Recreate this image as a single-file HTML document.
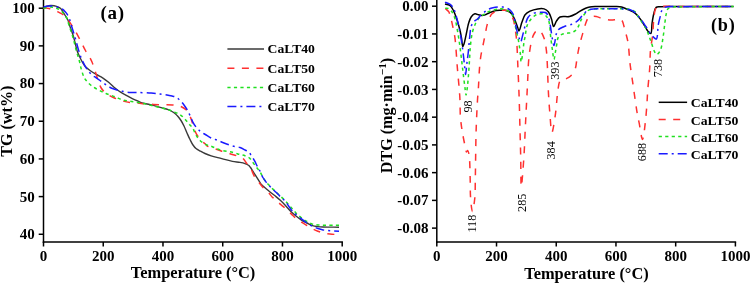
<!DOCTYPE html>
<html><head><meta charset="utf-8"><style>
html,body{margin:0;padding:0;background:#fff;}
body{width:750px;height:283px;overflow:hidden;}
svg{display:block;will-change:transform;}
text{font-family:"Liberation Serif",serif;fill:#000;}
.tk{font-size:15px;font-weight:bold;}
.ti{font-size:16.4px;font-weight:bold;}
.lg{font-size:13.2px;font-weight:bold;}
.lab{font-size:19px;letter-spacing:0.65px;font-weight:bold;}
.pk{font-size:12.2px;}
</style></head><body>
<svg width="750" height="283" viewBox="0 0 750 283">
<line x1="43.5" y1="0" x2="43.5" y2="242.75" stroke="#000" stroke-width="1.5"/>
<line x1="42.75" y1="242" x2="342.95" y2="242" stroke="#000" stroke-width="1.5"/>
<line x1="38.7" y1="8.20" x2="43.5" y2="8.20" stroke="#000" stroke-width="1.5"/>
<text x="34.8" y="13.10" class="tk" text-anchor="end">100</text>
<line x1="38.7" y1="45.88" x2="43.5" y2="45.88" stroke="#000" stroke-width="1.5"/>
<text x="34.8" y="50.78" class="tk" text-anchor="end">90</text>
<line x1="38.7" y1="83.56" x2="43.5" y2="83.56" stroke="#000" stroke-width="1.5"/>
<text x="34.8" y="88.46" class="tk" text-anchor="end">80</text>
<line x1="38.7" y1="121.24" x2="43.5" y2="121.24" stroke="#000" stroke-width="1.5"/>
<text x="34.8" y="126.14" class="tk" text-anchor="end">70</text>
<line x1="38.7" y1="158.92" x2="43.5" y2="158.92" stroke="#000" stroke-width="1.5"/>
<text x="34.8" y="163.82" class="tk" text-anchor="end">60</text>
<line x1="38.7" y1="196.60" x2="43.5" y2="196.60" stroke="#000" stroke-width="1.5"/>
<text x="34.8" y="201.50" class="tk" text-anchor="end">50</text>
<line x1="38.7" y1="234.28" x2="43.5" y2="234.28" stroke="#000" stroke-width="1.5"/>
<text x="34.8" y="239.18" class="tk" text-anchor="end">40</text>
<line x1="43.50" y1="242" x2="43.50" y2="246.5" stroke="#000" stroke-width="1.5"/>
<text x="43.50" y="261.2" class="tk" text-anchor="middle">0</text>
<line x1="103.24" y1="242" x2="103.24" y2="246.5" stroke="#000" stroke-width="1.5"/>
<text x="103.24" y="261.2" class="tk" text-anchor="middle">200</text>
<line x1="162.98" y1="242" x2="162.98" y2="246.5" stroke="#000" stroke-width="1.5"/>
<text x="162.98" y="261.2" class="tk" text-anchor="middle">400</text>
<line x1="222.72" y1="242" x2="222.72" y2="246.5" stroke="#000" stroke-width="1.5"/>
<text x="222.72" y="261.2" class="tk" text-anchor="middle">600</text>
<line x1="282.46" y1="242" x2="282.46" y2="246.5" stroke="#000" stroke-width="1.5"/>
<text x="282.46" y="261.2" class="tk" text-anchor="middle">800</text>
<line x1="342.20" y1="242" x2="342.20" y2="246.5" stroke="#000" stroke-width="1.5"/>
<text x="342.20" y="261.2" class="tk" text-anchor="middle">1000</text>
<text x="193.1" y="277.5" class="ti" text-anchor="middle">Temperature (°C)</text>
<text transform="translate(11.7,121.2) rotate(-90)" class="ti" style="font-size:16.1px" text-anchor="middle">TG (wt%)</text>
<text x="100.5" y="19.4" class="lab">(a)</text>
<path d="M43.50,8.20 C44.08,7.87 45.77,6.67 47.00,6.20 C48.21,5.74 49.58,5.47 50.80,5.40 C51.91,5.34 52.94,5.50 54.00,5.70 C55.08,5.90 56.13,6.17 57.20,6.60 C58.37,7.07 59.76,7.65 60.70,8.50 C61.61,9.33 62.11,10.54 62.80,11.60 C63.51,12.70 64.15,13.77 64.90,15.00 C65.79,16.46 67.00,18.05 67.80,19.80 C68.66,21.69 69.04,23.75 69.80,26.00 C70.72,28.73 72.09,32.09 73.00,35.00 C73.83,37.68 74.41,40.17 75.10,42.80 C75.81,45.50 76.40,48.63 77.20,51.00 C77.84,52.90 78.53,54.31 79.30,56.00 C80.12,57.80 81.01,59.74 82.00,61.50 C82.98,63.24 83.89,65.01 85.20,66.50 C86.54,68.02 88.25,69.23 90.00,70.50 C91.89,71.87 94.09,73.18 96.20,74.40 C98.29,75.61 100.52,76.48 102.60,77.80 C104.76,79.17 106.83,80.81 108.90,82.50 C111.06,84.27 113.23,86.50 115.30,88.20 C117.12,89.69 118.88,91.09 120.60,92.20 C122.10,93.17 123.49,93.78 125.00,94.60 C126.61,95.48 128.33,96.43 130.00,97.30 C131.66,98.16 133.28,98.99 135.00,99.80 C136.80,100.65 138.31,101.52 140.60,102.30 C143.94,103.44 149.47,104.41 153.30,105.40 C156.48,106.23 159.35,107.03 162.00,107.80 C164.25,108.45 166.41,109.00 168.20,109.70 C169.64,110.26 170.83,110.84 172.00,111.50 C173.08,112.11 174.04,112.71 175.00,113.50 C176.04,114.36 177.04,115.39 178.00,116.50 C179.04,117.70 180.05,119.02 181.00,120.50 C182.06,122.15 183.04,124.03 184.00,126.00 C185.05,128.17 185.98,130.72 187.00,133.00 C187.99,135.21 188.96,137.44 190.00,139.50 C190.97,141.43 191.91,143.42 193.00,145.00 C193.93,146.35 194.80,147.49 196.00,148.50 C197.30,149.58 199.07,150.35 200.60,151.20 C202.07,152.02 203.39,152.77 205.00,153.50 C206.87,154.35 208.83,155.14 211.20,155.90 C214.24,156.87 218.27,157.68 221.80,158.60 C225.34,159.52 229.14,160.76 232.40,161.40 C235.13,161.94 237.74,161.98 240.00,162.40 C241.85,162.74 243.51,163.07 245.00,163.60 C246.30,164.06 247.55,164.59 248.50,165.30 C249.33,165.92 249.87,166.67 250.50,167.50 C251.21,168.44 251.74,169.49 252.50,170.70 C253.50,172.29 254.76,174.25 256.00,176.20 C257.41,178.42 259.48,181.86 260.50,183.30 C260.97,183.96 261.21,184.28 261.60,184.70 C261.98,185.11 262.36,185.41 262.80,185.80 C263.32,186.26 263.83,186.72 264.50,187.30 C265.46,188.13 266.79,189.29 268.00,190.30 C269.28,191.36 270.66,192.45 272.00,193.50 C273.33,194.55 274.66,195.50 276.00,196.60 C277.42,197.76 278.86,198.96 280.30,200.30 C281.86,201.75 283.35,203.27 285.00,205.00 C286.95,207.04 289.21,209.85 291.20,211.80 C292.85,213.42 294.29,214.63 296.00,216.00 C297.81,217.46 299.87,219.10 301.80,220.30 C303.54,221.39 305.24,222.12 307.00,223.00 C308.78,223.89 310.54,225.00 312.40,225.60 C314.21,226.19 316.18,226.37 318.00,226.60 C319.71,226.82 321.19,226.91 323.00,227.00 C325.14,227.10 327.52,227.07 330.00,227.10 C332.81,227.14 337.50,227.18 339.00,227.20" fill="none" stroke="#3a3a3a" stroke-width="1.4" stroke-linejoin="round"/>
<path d="M43.50,8.50 C43.92,8.42 45.13,8.01 46.00,8.00 C46.95,7.98 48.01,8.25 49.00,8.50 C50.01,8.75 51.00,9.17 52.00,9.50 C53.00,9.83 54.01,10.12 55.00,10.50 C56.01,10.89 56.94,11.28 58.00,11.80 C59.25,12.41 60.67,13.10 62.00,14.00 C63.50,15.02 65.18,16.27 66.50,17.70 C67.85,19.16 68.75,20.83 70.00,22.70 C71.54,25.00 73.35,27.71 75.00,30.50 C76.82,33.59 78.63,37.11 80.40,40.50 C82.20,43.95 84.01,48.02 85.70,51.00 C87.01,53.31 88.41,55.06 89.50,57.00 C90.47,58.72 91.20,60.11 92.00,62.00 C92.98,64.33 93.94,67.42 94.80,70.00 C95.60,72.40 96.27,74.76 97.00,77.00 C97.67,79.08 98.27,81.11 99.00,83.00 C99.68,84.76 100.31,86.53 101.20,88.00 C102.01,89.33 102.95,90.43 104.00,91.50 C105.08,92.60 106.17,93.56 107.60,94.50 C109.35,95.66 111.61,96.69 113.90,97.70 C116.49,98.84 119.62,100.09 122.40,100.90 C124.98,101.65 127.56,102.17 130.00,102.50 C132.21,102.80 134.28,102.70 136.40,102.90 C138.51,103.10 140.32,103.47 142.70,103.70 C145.77,104.00 149.84,104.21 153.30,104.40 C156.60,104.58 159.79,104.70 163.00,104.80 C166.16,104.90 169.82,104.83 172.40,105.00 C174.21,105.12 175.54,105.23 177.00,105.50 C178.36,105.75 179.54,105.90 180.90,106.50 C182.64,107.27 184.85,108.44 186.40,110.10 C188.17,112.00 189.32,114.70 190.60,117.60 C192.19,121.21 193.54,127.13 194.80,130.30 C195.59,132.28 196.20,133.69 197.00,135.00 C197.65,136.07 198.35,136.72 199.10,137.70 C199.99,138.86 200.91,140.41 202.00,141.50 C203.03,142.53 204.51,143.27 205.40,144.10 C206.07,144.72 206.18,145.35 207.00,145.90 C208.43,146.86 211.53,147.45 213.90,148.30 C216.45,149.21 219.13,150.29 221.80,151.20 C224.50,152.12 227.22,152.93 230.00,153.80 C232.88,154.70 236.43,155.58 238.80,156.50 C240.48,157.16 241.78,157.50 243.00,158.50 C244.35,159.60 245.22,161.57 246.40,163.00 C247.55,164.40 248.84,165.26 250.00,167.00 C251.68,169.51 253.09,174.33 254.80,177.10 C256.13,179.27 257.58,180.73 259.00,182.50 C260.41,184.26 261.78,186.10 263.30,187.70 C264.78,189.26 266.54,190.46 268.00,192.00 C269.47,193.55 270.67,195.61 272.10,197.00 C273.35,198.21 274.68,198.86 276.00,200.00 C277.50,201.29 278.98,202.94 280.60,204.40 C282.31,205.94 284.24,207.42 286.00,209.00 C287.77,210.59 289.50,212.29 291.20,213.90 C292.84,215.45 294.26,217.10 296.00,218.50 C297.79,219.94 299.90,221.20 301.80,222.40 C303.57,223.52 305.25,224.45 307.00,225.50 C308.79,226.58 310.55,227.84 312.40,228.80 C314.22,229.74 316.18,230.48 318.00,231.20 C319.70,231.87 321.17,232.54 323.00,233.00 C325.11,233.53 327.52,233.73 330.00,234.00 C332.81,234.31 337.50,234.58 339.00,234.70" fill="none" stroke="#ff3030" stroke-width="1.5" stroke-dasharray="7 7.5" stroke-linejoin="round"/>
<path d="M43.50,8.50 C44.00,8.32 45.44,7.63 46.50,7.40 C47.61,7.15 48.82,7.12 50.00,7.10 C51.19,7.08 52.43,7.07 53.60,7.30 C54.77,7.53 55.99,8.08 57.00,8.50 C57.85,8.85 58.56,9.15 59.30,9.60 C60.07,10.07 60.81,10.67 61.50,11.30 C62.21,11.94 62.85,12.64 63.50,13.40 C64.19,14.20 64.90,15.10 65.50,16.00 C66.10,16.90 66.62,17.67 67.10,18.80 C67.76,20.34 68.09,22.22 68.80,24.50 C69.87,27.96 71.76,33.17 73.00,37.50 C74.22,41.74 75.10,46.17 76.20,50.20 C77.21,53.90 78.39,57.39 79.30,60.80 C80.14,63.94 80.65,67.01 81.50,69.90 C82.30,72.59 83.12,75.53 84.20,77.60 C85.03,79.19 85.95,80.28 87.00,81.50 C88.08,82.75 89.29,83.93 90.60,85.00 C91.95,86.10 93.38,87.02 95.00,88.00 C96.86,89.13 99.25,90.34 101.20,91.30 C102.89,92.14 104.31,92.81 106.00,93.50 C107.83,94.25 109.93,94.88 111.80,95.60 C113.59,96.28 115.25,97.01 117.00,97.70 C118.78,98.41 120.42,99.24 122.40,99.80 C124.69,100.45 127.14,100.70 130.00,101.20 C133.69,101.84 138.48,102.42 142.70,103.30 C146.95,104.19 151.16,105.44 155.40,106.50 C159.66,107.57 164.98,108.70 168.20,109.70 C170.21,110.32 171.33,110.84 173.00,111.50 C174.85,112.23 177.07,112.93 178.80,113.90 C180.37,114.79 181.68,115.79 183.00,117.00 C184.42,118.30 185.77,120.09 187.00,121.50 C188.08,122.73 189.02,123.88 190.00,125.00 C190.92,126.04 191.91,126.80 192.70,128.00 C193.62,129.40 194.23,131.48 195.00,133.00 C195.67,134.31 196.21,135.41 197.00,136.60 C197.86,137.91 198.90,139.40 200.00,140.50 C201.01,141.51 202.14,142.25 203.30,143.00 C204.47,143.75 205.66,144.43 207.00,145.00 C208.47,145.62 210.14,145.89 211.80,146.50 C213.66,147.19 215.74,148.31 217.60,149.00 C219.26,149.61 220.49,150.03 222.40,150.50 C225.11,151.16 229.31,151.58 232.40,152.30 C235.12,152.94 237.73,153.88 240.00,154.50 C241.84,155.00 243.40,155.20 245.00,155.80 C246.60,156.40 248.29,157.01 249.60,158.10 C250.97,159.24 251.88,161.10 253.00,162.60 C254.11,164.10 255.17,165.64 256.30,167.10 C257.41,168.54 258.65,169.72 259.70,171.30 C260.87,173.07 261.84,175.51 262.90,177.30 C263.80,178.82 264.54,180.04 265.60,181.40 C266.80,182.94 268.26,184.40 269.80,186.00 C271.58,187.84 273.88,190.06 275.70,191.80 C277.24,193.27 278.51,194.41 280.00,195.80 C281.61,197.30 283.29,198.72 285.00,200.50 C287.01,202.58 289.26,205.40 291.20,207.60 C292.90,209.53 294.27,211.26 296.00,213.00 C297.79,214.80 299.86,216.73 301.80,218.20 C303.53,219.51 305.22,220.51 307.00,221.50 C308.76,222.48 310.54,223.52 312.40,224.10 C314.21,224.67 316.18,224.82 318.00,225.00 C319.71,225.17 320.86,225.16 323.00,225.20 C326.82,225.28 336.33,225.20 339.00,225.20" fill="none" stroke="#20e020" stroke-width="1.5" stroke-dasharray="3.2 3.3" stroke-linejoin="round"/>
<path d="M43.50,7.00 C44.00,6.88 45.37,6.47 46.50,6.30 C47.95,6.09 49.78,5.90 51.50,6.00 C53.34,6.10 55.65,6.59 57.20,7.00 C58.31,7.29 59.08,7.61 60.00,8.00 C60.95,8.40 61.96,8.81 62.80,9.40 C63.63,9.98 64.30,10.73 65.00,11.50 C65.74,12.32 66.43,13.13 67.10,14.20 C67.94,15.54 68.83,17.29 69.50,19.00 C70.21,20.81 70.51,22.50 71.20,24.80 C72.23,28.22 73.89,33.34 75.10,37.50 C76.25,41.47 77.18,45.52 78.30,49.20 C79.32,52.55 80.24,55.67 81.50,58.70 C82.72,61.63 84.37,64.83 85.70,67.10 C86.67,68.75 87.46,69.90 88.50,71.20 C89.56,72.53 90.73,73.92 92.00,75.00 C93.21,76.03 94.59,76.70 95.90,77.60 C97.26,78.53 98.71,79.57 100.00,80.50 C101.16,81.33 102.17,82.09 103.30,82.90 C104.49,83.75 105.66,84.66 107.00,85.50 C108.47,86.43 110.13,87.45 111.80,88.20 C113.47,88.95 115.24,89.48 117.00,90.00 C118.77,90.52 120.44,90.91 122.40,91.30 C124.71,91.76 127.51,92.30 130.00,92.50 C132.37,92.69 134.26,92.44 137.00,92.50 C140.91,92.58 147.03,92.80 151.20,93.10 C154.49,93.34 157.12,93.63 160.00,94.00 C162.79,94.36 165.99,94.92 168.20,95.30 C169.71,95.56 170.76,95.71 172.00,96.00 C173.22,96.28 174.50,96.49 175.60,97.00 C176.66,97.50 177.59,98.29 178.50,99.00 C179.39,99.69 180.17,100.32 181.00,101.20 C182.00,102.26 183.00,103.62 184.00,105.00 C185.13,106.55 186.40,108.34 187.40,110.10 C188.39,111.84 189.15,113.62 190.00,115.50 C190.91,117.51 191.67,119.84 192.70,121.80 C193.68,123.66 194.84,125.51 196.00,127.00 C196.99,128.28 198.04,129.35 199.10,130.30 C200.05,131.15 200.97,131.81 202.00,132.50 C203.07,133.22 204.12,133.74 205.40,134.50 C207.08,135.50 209.12,137.01 211.20,138.00 C213.38,139.03 215.99,139.63 218.20,140.50 C220.24,141.30 221.87,142.18 224.00,143.00 C226.53,143.98 229.65,145.14 232.40,145.90 C234.97,146.61 237.76,146.73 240.00,147.50 C241.92,148.16 243.59,149.18 245.10,150.00 C246.36,150.68 247.51,151.16 248.50,152.00 C249.48,152.83 250.14,153.79 251.00,155.00 C252.15,156.60 253.57,159.03 254.60,160.90 C255.49,162.51 256.08,163.94 256.90,165.50 C257.77,167.14 258.77,168.67 259.70,170.50 C260.77,172.62 261.79,175.55 262.90,177.50 C263.77,179.03 264.56,180.06 265.60,181.40 C266.81,182.95 268.25,184.55 269.80,186.20 C271.57,188.07 273.84,190.15 275.70,192.00 C277.39,193.67 278.91,195.27 280.50,196.80 C282.01,198.26 283.47,199.25 285.00,201.00 C287.02,203.30 289.17,207.30 291.20,209.70 C292.82,211.62 294.28,212.95 296.00,214.50 C297.80,216.12 299.90,217.74 301.80,219.20 C303.56,220.56 305.22,221.83 307.00,223.00 C308.76,224.16 310.55,225.28 312.40,226.20 C314.22,227.11 316.17,227.87 318.00,228.50 C319.70,229.08 321.18,229.53 323.00,229.90 C325.12,230.33 327.52,230.57 330.00,230.80 C332.81,231.06 337.50,231.22 339.00,231.30" fill="none" stroke="#1a1aff" stroke-width="1.5" stroke-dasharray="9 4 2 4" stroke-linejoin="round"/>
<line x1="227.4" y1="49" x2="264" y2="49" stroke="#3a3a3a" stroke-width="1.4"/>
<text x="267.6" y="53.30" class="lg" textLength="47.3" lengthAdjust="spacingAndGlyphs">CaLT40</text>
<line x1="227.4" y1="68.2" x2="264" y2="68.2" stroke="#ff3030" stroke-width="1.5" stroke-dasharray="7 7.5"/>
<text x="267.6" y="72.50" class="lg" textLength="47.3" lengthAdjust="spacingAndGlyphs">CaLT50</text>
<line x1="227.4" y1="87.4" x2="264" y2="87.4" stroke="#20e020" stroke-width="1.5" stroke-dasharray="3.2 3.3"/>
<text x="267.6" y="91.70" class="lg" textLength="47.3" lengthAdjust="spacingAndGlyphs">CaLT60</text>
<line x1="227.4" y1="106.6" x2="264" y2="106.6" stroke="#1a1aff" stroke-width="1.5" stroke-dasharray="9 4 2 4"/>
<text x="267.6" y="110.90" class="lg" textLength="47.3" lengthAdjust="spacingAndGlyphs">CaLT70</text>
<line x1="436.8" y1="0" x2="436.8" y2="242.75" stroke="#000" stroke-width="1.5"/>
<line x1="436.05" y1="242" x2="736.15" y2="242" stroke="#000" stroke-width="1.5"/>
<line x1="432.0" y1="6.20" x2="436.8" y2="6.20" stroke="#000" stroke-width="1.5"/>
<text x="428.6" y="11.30" class="tk" text-anchor="end">0.00</text>
<line x1="432.0" y1="33.94" x2="436.8" y2="33.94" stroke="#000" stroke-width="1.5"/>
<text x="428.6" y="39.04" class="tk" text-anchor="end">-0.01</text>
<line x1="432.0" y1="61.68" x2="436.8" y2="61.68" stroke="#000" stroke-width="1.5"/>
<text x="428.6" y="66.78" class="tk" text-anchor="end">-0.02</text>
<line x1="432.0" y1="89.42" x2="436.8" y2="89.42" stroke="#000" stroke-width="1.5"/>
<text x="428.6" y="94.52" class="tk" text-anchor="end">-0.03</text>
<line x1="432.0" y1="117.16" x2="436.8" y2="117.16" stroke="#000" stroke-width="1.5"/>
<text x="428.6" y="122.26" class="tk" text-anchor="end">-0.04</text>
<line x1="432.0" y1="144.90" x2="436.8" y2="144.90" stroke="#000" stroke-width="1.5"/>
<text x="428.6" y="150.00" class="tk" text-anchor="end">-0.05</text>
<line x1="432.0" y1="172.64" x2="436.8" y2="172.64" stroke="#000" stroke-width="1.5"/>
<text x="428.6" y="177.74" class="tk" text-anchor="end">-0.06</text>
<line x1="432.0" y1="200.38" x2="436.8" y2="200.38" stroke="#000" stroke-width="1.5"/>
<text x="428.6" y="205.48" class="tk" text-anchor="end">-0.07</text>
<line x1="432.0" y1="228.12" x2="436.8" y2="228.12" stroke="#000" stroke-width="1.5"/>
<text x="428.6" y="233.22" class="tk" text-anchor="end">-0.08</text>
<line x1="436.80" y1="242" x2="436.80" y2="246.5" stroke="#000" stroke-width="1.5"/>
<text x="436.80" y="261.2" class="tk" text-anchor="middle">0</text>
<line x1="496.52" y1="242" x2="496.52" y2="246.5" stroke="#000" stroke-width="1.5"/>
<text x="496.52" y="261.2" class="tk" text-anchor="middle">200</text>
<line x1="556.24" y1="242" x2="556.24" y2="246.5" stroke="#000" stroke-width="1.5"/>
<text x="556.24" y="261.2" class="tk" text-anchor="middle">400</text>
<line x1="615.96" y1="242" x2="615.96" y2="246.5" stroke="#000" stroke-width="1.5"/>
<text x="615.96" y="261.2" class="tk" text-anchor="middle">600</text>
<line x1="675.68" y1="242" x2="675.68" y2="246.5" stroke="#000" stroke-width="1.5"/>
<text x="675.68" y="261.2" class="tk" text-anchor="middle">800</text>
<line x1="735.40" y1="242" x2="735.40" y2="246.5" stroke="#000" stroke-width="1.5"/>
<text x="735.40" y="261.2" class="tk" text-anchor="middle">1000</text>
<text x="586.5" y="278.6" class="ti" text-anchor="middle">Temperature (°C)</text>
<text transform="translate(391.5,173.2) rotate(-90)" class="ti" style="font-size:16.1px">DTG (mg·min<tspan font-size="11.3" dy="-6">−1</tspan><tspan dy="6">)</tspan></text>
<text x="711.0" y="31.1" class="lab" style="font-size:18.2px;letter-spacing:0.8px">(b)</text>
<path d="M445.00,4.00 C445.80,4.22 448.44,4.35 449.80,5.30 C451.35,6.39 452.42,8.55 453.50,10.60 C454.78,13.03 455.69,16.07 456.70,19.10 C457.83,22.49 459.07,26.63 459.90,30.00 C460.60,32.86 461.02,35.29 461.50,38.00 C461.99,40.78 462.19,46.41 462.80,46.50 C463.14,46.55 463.61,45.11 464.00,44.00 C464.70,42.00 465.29,38.45 466.00,35.30 C466.84,31.56 467.63,26.37 468.70,23.00 C469.48,20.54 470.12,18.39 471.30,16.80 C472.28,15.47 473.62,14.07 474.90,13.80 C476.04,13.55 477.33,14.51 478.50,14.80 C479.59,15.07 480.62,15.48 481.70,15.50 C482.79,15.52 483.91,15.26 485.00,14.90 C486.18,14.52 487.32,13.73 488.50,13.20 C489.68,12.67 490.84,12.16 492.10,11.70 C493.44,11.22 494.88,10.65 496.30,10.40 C497.68,10.16 499.09,10.22 500.50,10.20 C501.92,10.18 503.33,10.04 504.80,10.30 C506.43,10.59 508.57,11.23 509.80,12.00 C510.70,12.56 511.15,13.12 511.80,14.00 C512.73,15.26 513.62,17.15 514.50,19.10 C515.60,21.54 516.87,25.41 517.70,27.60 C518.23,28.99 518.50,31.01 519.00,31.00 C519.80,30.98 520.85,25.07 521.90,22.30 C522.89,19.69 523.59,16.70 525.10,14.80 C526.40,13.16 528.09,12.15 530.00,11.20 C532.20,10.11 535.23,9.26 537.70,8.90 C539.91,8.58 542.26,8.34 544.10,8.90 C545.73,9.39 547.15,10.32 548.30,11.70 C549.76,13.45 550.61,16.60 551.50,19.10 C552.37,21.54 552.71,26.41 553.60,26.50 C554.39,26.58 555.31,22.81 556.40,21.20 C557.45,19.65 558.27,17.85 560.00,17.00 C562.26,15.89 566.69,17.14 569.50,16.50 C571.90,15.95 574.15,14.72 575.90,13.80 C577.21,13.11 577.90,12.46 579.20,11.70 C580.97,10.67 583.66,9.11 585.60,8.30 C587.11,7.67 588.25,7.30 589.80,7.00 C591.65,6.64 593.74,6.60 596.00,6.50 C598.72,6.38 601.92,6.40 605.00,6.40 C608.25,6.40 612.01,6.37 615.00,6.50 C617.43,6.60 619.46,6.50 621.60,7.00 C623.79,7.51 625.82,8.61 628.00,9.60 C630.38,10.68 633.20,11.66 635.30,13.30 C637.39,14.93 638.99,17.22 640.60,19.40 C642.23,21.62 643.71,24.41 645.00,26.50 C646.01,28.14 646.66,29.68 647.70,30.90 C648.62,31.99 650.06,33.88 650.80,33.60 C651.99,33.14 651.57,26.45 652.10,23.00 C652.61,19.69 653.12,16.10 653.90,13.30 C654.52,11.06 654.86,8.43 656.10,7.40 C657.08,6.58 658.19,6.87 660.00,6.70 C664.07,6.32 672.96,6.55 680.00,6.50 C687.87,6.44 696.39,6.42 705.00,6.40 C714.21,6.38 728.83,6.40 733.60,6.40" fill="none" stroke="#000" stroke-width="1.5" stroke-linejoin="round"/>
<path d="M445.30,8.50 C445.87,9.03 447.82,10.32 448.70,11.70 C449.75,13.35 450.14,15.66 450.80,18.00 C451.60,20.85 452.32,24.38 453.00,27.60 C453.69,30.84 454.33,33.23 454.90,37.40 C455.89,44.60 456.48,57.20 457.30,67.10 C458.12,77.00 459.27,87.73 459.80,96.80 C460.25,104.45 459.97,111.56 460.50,118.00 C460.95,123.44 461.67,128.01 462.50,133.00 C463.33,138.01 464.74,144.60 465.50,148.00 C465.90,149.76 466.04,151.91 466.50,152.00 C466.81,152.06 467.25,150.46 467.60,150.50 C468.10,150.56 468.67,152.65 469.00,154.00 C469.42,155.71 469.43,157.41 469.60,160.00 C469.91,164.71 470.03,173.51 470.20,180.00 C470.36,186.16 470.17,192.44 470.60,198.00 C470.97,202.83 471.70,211.48 472.40,211.50 C473.10,211.52 474.31,202.84 474.80,198.00 C475.37,192.45 475.17,186.16 475.30,180.00 C475.44,173.51 475.49,167.04 475.60,160.00 C475.72,152.13 475.81,142.53 476.00,135.00 C476.16,128.79 476.35,123.75 476.60,118.00 C476.85,112.08 477.16,105.39 477.50,100.00 C477.78,95.59 478.10,92.56 478.40,88.00 C478.80,81.97 479.08,73.02 479.60,67.00 C480.00,62.44 480.48,58.17 481.00,55.00 C481.34,52.90 481.70,51.75 482.10,49.80 C482.61,47.31 483.21,44.27 483.80,41.30 C484.44,38.03 485.21,33.91 485.80,31.00 C486.24,28.85 486.48,27.28 487.00,25.40 C487.54,23.44 488.27,21.36 489.00,19.50 C489.68,17.77 490.25,15.85 491.20,14.60 C491.98,13.57 492.96,12.94 494.00,12.30 C495.08,11.63 496.39,11.03 497.60,10.70 C498.73,10.39 499.79,10.37 501.00,10.30 C502.39,10.22 504.09,10.08 505.50,10.30 C506.81,10.51 508.19,10.66 509.20,11.50 C510.42,12.52 511.14,14.97 511.90,16.50 C512.53,17.76 513.04,18.56 513.50,20.00 C514.16,22.09 514.53,25.06 515.00,28.00 C515.58,31.59 516.18,35.37 516.60,40.00 C517.17,46.30 517.33,54.16 517.70,62.40 C518.16,72.53 518.72,85.02 519.10,96.30 C519.48,107.55 519.72,119.39 520.00,130.00 C520.25,139.50 520.49,147.79 520.70,157.00 C520.92,166.64 520.77,186.58 521.30,186.60 C521.83,186.62 523.24,166.65 523.90,157.00 C524.53,147.80 524.79,138.33 525.20,130.00 C525.55,122.83 525.89,116.04 526.20,110.00 C526.45,105.00 526.67,100.91 526.90,96.30 C527.14,91.61 527.32,87.52 527.60,82.10 C527.98,74.86 528.16,64.29 529.00,56.70 C529.69,50.47 530.69,43.92 531.80,39.80 C532.47,37.32 533.07,35.60 534.00,34.00 C534.77,32.67 535.63,31.21 536.70,30.70 C537.61,30.27 538.83,30.14 539.80,30.70 C541.42,31.64 543.05,35.39 544.10,38.20 C545.28,41.34 545.70,45.20 546.20,48.80 C546.71,52.47 546.81,55.26 547.10,60.00 C547.60,68.25 547.95,84.11 548.50,93.90 C548.92,101.39 549.32,107.19 549.90,113.70 C550.46,120.05 550.97,132.46 551.90,132.50 C552.83,132.54 554.57,120.07 555.50,113.70 C556.45,107.21 556.68,99.76 557.50,93.90 C558.16,89.18 558.48,83.38 559.80,81.20 C560.41,80.19 561.07,79.94 562.00,79.50 C563.24,78.91 565.30,79.05 566.80,78.40 C568.34,77.73 569.81,76.86 571.10,75.50 C572.72,73.79 574.40,70.87 575.30,68.50 C576.11,66.37 576.06,64.51 576.50,62.00 C577.10,58.57 577.72,53.64 578.50,49.80 C579.21,46.31 580.06,43.08 580.90,39.90 C581.69,36.90 582.60,33.96 583.40,31.20 C584.13,28.69 584.70,26.22 585.50,24.00 C586.22,22.02 586.86,19.73 587.90,18.50 C588.64,17.62 589.41,17.16 590.50,16.80 C591.98,16.32 594.27,16.23 596.20,16.50 C598.30,16.79 600.30,18.12 602.60,18.70 C605.18,19.35 608.38,20.01 611.00,20.10 C613.27,20.18 615.49,19.45 617.40,19.50 C618.95,19.54 620.48,19.16 621.60,20.10 C623.33,21.55 623.79,26.26 624.80,29.70 C625.94,33.62 627.18,37.64 628.00,42.40 C629.02,48.32 629.11,55.91 629.90,62.60 C630.68,69.24 631.77,75.81 632.70,82.40 C633.63,88.98 634.63,96.23 635.50,102.10 C636.21,106.86 636.82,111.27 637.50,115.00 C638.03,117.87 638.48,119.57 639.10,122.60 C640.03,127.12 641.47,139.52 642.50,139.50 C643.53,139.48 644.56,128.47 645.30,122.60 C646.09,116.28 646.58,108.58 647.00,102.80 C647.32,98.30 647.36,95.42 647.70,90.80 C648.17,84.45 649.23,75.33 649.70,68.20 C650.12,61.81 649.97,55.73 650.50,50.00 C650.98,44.83 652.04,40.43 652.60,35.30 C653.21,29.71 653.26,22.56 653.90,17.70 C654.36,14.22 654.47,10.60 655.60,8.80 C656.29,7.70 656.85,7.29 658.30,6.80 C661.98,5.57 672.51,6.65 680.00,6.60 C688.04,6.55 696.39,6.53 705.00,6.50 C714.21,6.47 728.83,6.42 733.60,6.40" fill="none" stroke="#ff3030" stroke-width="1.5" stroke-dasharray="7 7.5" stroke-linejoin="round"/>
<path d="M445.30,8.30 C445.78,8.33 447.24,8.10 448.20,8.50 C449.45,9.01 450.84,10.26 451.90,11.70 C453.26,13.55 454.30,16.59 455.10,19.10 C455.88,21.53 456.15,23.66 456.70,26.50 C457.44,30.32 458.30,35.37 459.00,40.00 C459.74,44.86 460.35,49.84 461.00,55.00 C461.69,60.49 462.32,66.42 463.00,72.00 C463.66,77.42 464.43,83.76 465.00,88.00 C465.38,90.81 465.63,94.99 466.00,95.00 C466.31,95.01 466.68,92.12 467.00,90.00 C467.55,86.35 468.08,80.00 468.50,75.00 C468.92,70.00 469.17,65.00 469.50,60.00 C469.83,55.00 469.97,49.81 470.50,45.00 C471.00,40.50 471.50,35.89 472.50,32.00 C473.36,28.68 474.52,25.54 475.80,23.00 C476.84,20.93 477.92,19.15 479.30,17.70 C480.58,16.36 482.24,15.47 483.70,14.50 C485.07,13.58 486.25,12.71 487.80,12.00 C489.61,11.17 491.88,10.53 494.00,10.00 C496.15,9.46 498.76,8.86 500.60,8.80 C501.92,8.76 502.87,8.92 504.00,9.20 C505.20,9.50 506.52,10.02 507.60,10.60 C508.60,11.14 509.43,11.68 510.30,12.50 C511.35,13.49 512.50,14.57 513.30,16.30 C514.54,18.97 514.76,23.58 515.60,27.60 C516.57,32.20 517.97,37.65 518.80,42.40 C519.56,46.75 520.10,51.41 520.50,55.00 C520.79,57.67 520.77,61.98 521.10,62.00 C521.43,62.02 522.07,57.70 522.50,55.00 C523.08,51.34 523.48,45.29 524.00,42.00 C524.32,39.97 524.61,39.10 525.00,37.10 C525.62,33.96 526.06,28.18 527.30,25.00 C528.21,22.67 529.44,21.03 530.80,19.40 C532.09,17.85 533.70,16.31 535.20,15.40 C536.44,14.65 537.76,14.26 539.00,14.00 C540.12,13.76 541.28,13.61 542.30,13.80 C543.27,13.97 544.25,14.47 545.00,15.00 C545.69,15.49 546.17,16.08 546.70,16.80 C547.35,17.68 548.03,18.78 548.50,20.00 C549.05,21.45 549.29,23.00 549.60,25.00 C550.06,27.94 550.17,32.12 550.60,36.00 C551.08,40.39 551.78,45.79 552.40,50.00 C552.92,53.48 553.47,59.50 554.00,59.50 C554.47,59.50 554.94,54.54 555.40,52.00 C555.87,49.38 556.31,46.52 556.80,44.00 C557.25,41.72 557.21,39.17 558.20,37.50 C559.05,36.07 560.54,35.00 561.90,34.30 C563.16,33.65 564.59,33.55 566.00,33.30 C567.48,33.04 569.20,33.14 570.60,32.80 C571.84,32.50 572.97,32.11 574.00,31.50 C575.04,30.88 576.01,30.06 576.80,29.10 C577.63,28.08 578.20,26.78 578.80,25.50 C579.44,24.13 579.72,22.72 580.50,21.10 C581.55,18.92 583.50,15.39 584.80,13.70 C585.58,12.68 586.19,12.17 587.00,11.50 C587.85,10.80 588.55,10.04 589.80,9.60 C591.75,8.91 595.00,9.04 598.00,8.90 C601.62,8.73 606.18,8.82 610.00,8.80 C613.49,8.79 616.85,8.74 620.00,8.80 C622.82,8.85 625.46,8.59 628.00,9.10 C630.45,9.59 633.19,10.23 635.00,11.70 C636.76,13.13 637.32,15.43 638.80,17.70 C640.78,20.74 644.08,24.84 645.90,28.30 C647.47,31.28 648.40,34.45 649.40,37.10 C650.21,39.25 650.77,40.88 651.50,43.00 C652.35,45.46 653.12,48.94 654.20,51.00 C654.97,52.48 655.85,54.48 656.80,54.50 C657.89,54.53 659.45,52.09 660.40,50.10 C661.82,47.13 662.28,41.99 663.00,37.70 C663.77,33.14 664.22,27.74 664.80,23.50 C665.28,20.04 665.56,16.76 666.20,14.10 C666.69,12.06 666.88,9.97 668.00,8.80 C669.03,7.73 670.70,7.44 672.40,7.10 C674.56,6.67 676.73,6.96 680.00,6.90 C685.92,6.79 696.39,6.67 705.00,6.60 C714.21,6.53 728.83,6.52 733.60,6.50" fill="none" stroke="#20e020" stroke-width="1.5" stroke-dasharray="3.2 3.3" stroke-linejoin="round"/>
<path d="M445.00,2.10 C445.80,2.45 448.43,3.27 449.80,4.20 C451.07,5.07 452.10,6.04 453.00,7.40 C454.12,9.08 454.77,11.27 455.60,13.80 C456.74,17.28 457.88,22.36 458.80,26.50 C459.67,30.42 460.33,33.97 461.00,38.00 C461.74,42.43 462.40,47.33 463.00,52.00 C463.60,56.66 464.13,61.91 464.60,66.00 C464.97,69.19 465.25,74.50 465.60,74.50 C465.98,74.50 466.37,67.62 466.80,64.00 C467.26,60.13 467.85,56.16 468.30,52.00 C468.79,47.52 469.07,42.48 469.60,38.00 C470.09,33.84 470.25,28.96 471.30,26.00 C471.99,24.05 472.90,22.70 474.00,21.50 C475.00,20.42 476.39,20.01 477.50,19.00 C478.74,17.88 479.67,16.28 481.00,15.00 C482.46,13.60 484.49,12.07 486.00,11.00 C487.16,10.18 488.05,9.53 489.20,9.00 C490.38,8.46 491.65,8.11 493.00,7.80 C494.47,7.46 496.08,7.22 497.70,7.10 C499.41,6.97 501.31,6.85 503.00,7.10 C504.61,7.34 506.28,7.87 507.60,8.50 C508.73,9.04 509.61,9.62 510.50,10.50 C511.54,11.54 512.58,12.87 513.30,14.50 C514.20,16.54 514.37,19.21 515.00,22.00 C515.80,25.51 516.80,30.78 517.70,33.90 C518.30,35.98 518.95,37.53 519.50,39.00 C519.93,40.14 520.29,42.02 520.70,42.00 C521.27,41.97 521.91,38.15 522.50,36.00 C523.18,33.53 523.87,30.41 524.50,28.00 C525.02,25.99 525.41,24.27 526.00,22.50 C526.58,20.78 526.99,18.95 528.00,17.50 C529.04,16.01 530.60,14.53 532.20,13.70 C533.75,12.89 535.76,12.75 537.40,12.50 C538.84,12.28 540.15,12.20 541.50,12.20 C542.82,12.20 544.36,12.04 545.40,12.50 C546.29,12.90 546.95,13.66 547.50,14.50 C548.13,15.45 548.40,16.58 548.80,18.00 C549.40,20.10 549.86,22.94 550.40,26.00 C551.12,30.07 551.85,36.71 552.60,40.30 C553.06,42.51 553.51,45.62 554.00,45.60 C554.72,45.58 555.38,36.87 556.30,34.00 C556.87,32.21 557.13,30.96 558.20,29.80 C559.46,28.43 561.72,27.59 563.80,26.70 C566.18,25.68 569.59,25.11 571.80,24.20 C573.46,23.51 574.74,22.86 576.00,22.00 C577.19,21.18 578.21,20.22 579.20,19.20 C580.21,18.16 581.10,16.81 582.00,15.80 C582.76,14.94 583.41,14.29 584.20,13.50 C585.07,12.63 585.91,11.51 587.00,10.80 C588.13,10.06 589.37,9.55 590.90,9.20 C592.88,8.75 595.32,8.88 598.00,8.80 C601.48,8.69 606.18,8.75 610.00,8.75 C613.49,8.75 617.10,8.72 620.00,8.80 C622.23,8.86 623.91,8.82 625.90,9.10 C627.98,9.40 630.21,9.53 632.20,10.60 C634.55,11.87 636.67,14.39 638.80,16.80 C641.26,19.58 643.74,23.40 645.90,26.50 C647.83,29.27 649.49,32.35 651.20,34.50 C652.50,36.13 653.95,37.83 655.00,38.50 C655.56,38.86 656.07,39.27 656.50,39.00 C657.78,38.19 657.54,28.87 658.30,24.70 C658.90,21.39 659.76,18.46 660.40,15.90 C660.90,13.91 660.94,12.09 661.80,10.60 C662.61,9.18 663.52,7.87 665.30,7.10 C668.37,5.78 674.45,6.80 680.00,6.70 C687.23,6.57 696.39,6.53 705.00,6.50 C714.21,6.46 728.83,6.50 733.60,6.50" fill="none" stroke="#1a1aff" stroke-width="1.5" stroke-dasharray="9 4 2 4" stroke-linejoin="round"/>
<text transform="translate(471.8,106.4) rotate(-90)" class="pk" text-anchor="middle">98</text>
<text transform="translate(476.2,223.6) rotate(-90)" class="pk" text-anchor="middle">118</text>
<text transform="translate(526.0,202.8) rotate(-90)" class="pk" text-anchor="middle">285</text>
<text transform="translate(555.0,150.4) rotate(-90)" class="pk" text-anchor="middle">384</text>
<text transform="translate(558.9,70.6) rotate(-90)" class="pk" text-anchor="middle">393</text>
<text transform="translate(646.4,152.0) rotate(-90)" class="pk" text-anchor="middle">688</text>
<text transform="translate(662.4,68.0) rotate(-90)" class="pk" text-anchor="middle">738</text>
<line x1="658.7" y1="102.3" x2="687.1" y2="102.3" stroke="#000" stroke-width="1.5"/>
<text x="690.8" y="107.45" class="lg" textLength="47.6" lengthAdjust="spacingAndGlyphs">CaLT40</text>
<line x1="658.7" y1="119.4" x2="687.1" y2="119.4" stroke="#ff3030" stroke-width="1.5" stroke-dasharray="7 7.5"/>
<text x="690.8" y="124.55" class="lg" textLength="47.6" lengthAdjust="spacingAndGlyphs">CaLT50</text>
<line x1="658.7" y1="136.6" x2="687.1" y2="136.6" stroke="#20e020" stroke-width="1.5" stroke-dasharray="3.2 3.3"/>
<text x="690.8" y="141.75" class="lg" textLength="47.6" lengthAdjust="spacingAndGlyphs">CaLT60</text>
<line x1="658.7" y1="153.7" x2="687.1" y2="153.7" stroke="#1a1aff" stroke-width="1.5" stroke-dasharray="9 4 2 4"/>
<text x="690.8" y="158.85" class="lg" textLength="47.6" lengthAdjust="spacingAndGlyphs">CaLT70</text>
</svg>
</body></html>
